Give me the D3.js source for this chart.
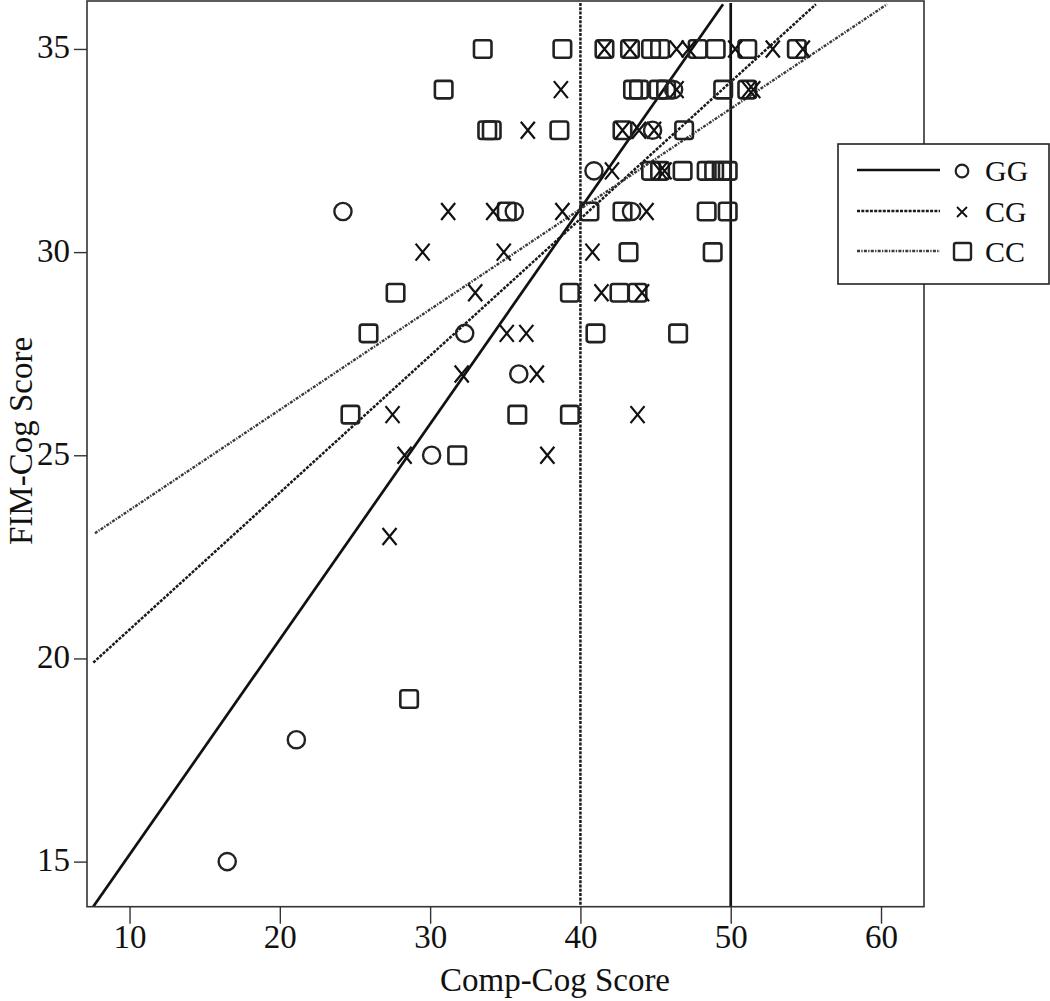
<!DOCTYPE html>
<html><head><meta charset="utf-8">
<script src="https://cdn.jsdelivr.net/npm/d3@7"></script>
<style>html,body{margin:0;padding:0;background:#fff;}svg{display:block;}</style>
</head><body>
<svg id="chart" width="1050" height="1001"></svg>
<script>
// ---- data ----
const groupNames = ["GG", "CG", "CC"];
const xTicks = [10, 20, 30, 40, 50, 60];
const yTicks = [15, 20, 25, 30, 35];
const xTitle = "Comp-Cog Score";
const yTitle = "FIM-Cog Score";
const refLinesX = [40, 50];
// regression fits: [slope, intercept, xStart]
const ggFit = [0.530, 9.87, 7.59];
const cgFit = [0.337, 17.34, 7.59];
const ccFit = [0.247, 21.18, 7.70];

const ggPoints = [[16.5,15],[21.1,18],[24.2,31],[30.1,25],[32.3,28],[35.9,27],[35.6,31],[40.9,32],[43.4,31],[44.8,33],[46.2,34]];
const cgPoints = [
 [41.6,35],[43.3,35],[46.4,35],[47.2,35],[50.3,35],[52.8,35],[54.8,35],
 [38.7,34],[46.4,34],[51.2,34],[51.5,34],
 [36.5,33],[42.8,33],[43.9,33],[44.9,33],
 [42.1,32],[45.3,32],[45.6,32],
 [31.2,31],[34.2,31],[38.8,31],[44.4,31],
 [29.5,30],[34.9,30],[40.8,30],
 [33.0,29],[41.4,29],[44.1,29],
 [35.1,28],[36.4,28],
 [32.1,27],[37.1,27],
 [27.5,26],[43.8,26],
 [28.3,25],[37.8,25],
 [27.3,23]];
const ccPoints = [
 [33.5,35],[38.8,35],[41.6,35],[43.3,35],[44.7,35],[45.3,35],[47.8,35],[49.0,35],[51.1,35],[54.4,35],
 [30.9,34],[43.5,34],[43.9,34],[45.2,34],[45.7,34],[49.5,34],[51.1,34],
 [33.8,33],[34.1,33],[38.6,33],[42.8,33],[46.9,33],
 [44.7,32],[45.3,32],[46.8,32],[48.4,32],[48.9,32],[49.4,32],[49.8,32],
 [35.1,31],[40.6,31],[42.8,31],[48.4,31],[49.8,31],
 [43.2,30],[48.8,30],
 [27.7,29],[39.3,29],[42.6,29],[43.8,29],
 [25.9,28],[41.0,28],[46.5,28],
 [24.7,26],[35.8,26],[39.3,26],
 [31.8,25],
 [28.6,19]];

// ---- layout ----
const svg = d3.select("#chart");
const L = 87, R = 924, T = 1, B = 906.7;
const x = d3.scaleLinear().domain([7.17, 62.86]).range([L, R]);
const y = d3.scaleLinear().domain([13.89, 36.18]).range([B, T]);
const font = "'Liberation Serif','Times New Roman',serif";
const ink = "#222";

const styles = {
  GG: {dash: null, color: "#111", width: 2.7},
  CG: {dash: "3,1.3", color: "#1a1a1a", width: 2.5},
  CC: {dash: "3,1.3,1.3,1.3", color: "#3a3a3a", width: 2.4}
};

const plot = svg.append("g");
const clipId = "clipPlot";
svg.append("clipPath").attr("id", clipId).append("rect")
  .attr("x", L).attr("y", T).attr("width", R - L).attr("height", B - T);

// reference vertical lines
plot.append("line").attr("x1", x(refLinesX[0])).attr("x2", x(refLinesX[0]))
  .attr("y1", T + 2).attr("y2", B).attr("stroke", "#1a1a1a")
  .attr("stroke-width", 2.5).attr("stroke-dasharray", "3,1.3");
plot.append("line").attr("x1", x(refLinesX[1])).attr("x2", x(refLinesX[1]))
  .attr("y1", T + 2).attr("y2", B).attr("stroke", "#111").attr("stroke-width", 2.7);

// fit lines
const fits = [["GG", ggFit], ["CG", cgFit], ["CC", ccFit]];
const topVal = 36.1;
fits.forEach(([g, f]) => {
  const [m, b, xs] = f;
  const xe = (topVal - b) / m;
  const s = styles[g];
  const ln = plot.append("line")
    .attr("x1", x(xs)).attr("y1", y(m * xs + b))
    .attr("x2", x(xe)).attr("y2", y(topVal))
    .attr("stroke", s.color).attr("stroke-width", s.width)
    .attr("clip-path", `url(#${clipId})`);
  if (s.dash) ln.attr("stroke-dasharray", s.dash);
});

// markers
const circR = 8.6, sq = 17.5, xw = 7, xh = 8.5;
const mk = plot.append("g").attr("fill", "none").attr("stroke", ink);
mk.selectAll("rect.cc").data(ccPoints).join("rect").attr("class", "cc")
  .attr("x", d => x(d[0]) - sq / 2).attr("y", d => y(d[1]) - sq / 2)
  .attr("width", sq).attr("height", sq).attr("rx", 2.5)
  .attr("stroke-width", 2.6);
mk.selectAll("path.cg").data(cgPoints).join("path").attr("class", "cg")
  .attr("d", d => {
    const cx = x(d[0]), cy = y(d[1]);
    return `M${cx - xw},${cy - xh}L${cx + xw},${cy + xh}M${cx + xw},${cy - xh}L${cx - xw},${cy + xh}`;
  }).attr("stroke-width", 2.2).attr("stroke", "#111");
mk.selectAll("circle.gg").data(ggPoints).join("circle").attr("class", "gg")
  .attr("cx", d => x(d[0])).attr("cy", d => y(d[1])).attr("r", circR)
  .attr("stroke-width", 2.4);

// frame
svg.append("rect").attr("x", L).attr("y", T).attr("width", R - L).attr("height", B - T)
  .attr("fill", "none").attr("stroke", "#333").attr("stroke-width", 1.6);

// axes
const xAxis = svg.append("g").attr("transform", `translate(0,${B})`)
  .call(d3.axisBottom(x).tickValues(xTicks).tickSize(17).tickPadding(4).tickFormat(d3.format("d")));
xAxis.select(".domain").remove();
xAxis.selectAll(".tick line").attr("stroke", "#333").attr("stroke-width", 1.4);
xAxis.selectAll(".tick text").attr("font-family", font).attr("font-size", 33)
  .attr("fill", "#111").attr("dy", null).attr("y", 41.5);

const yAxis = svg.append("g").attr("transform", `translate(${L},0)`)
  .call(d3.axisLeft(y).tickValues(yTicks).tickSize(13).tickPadding(4).tickFormat(d3.format("d")));
yAxis.select(".domain").remove();
yAxis.selectAll(".tick line").attr("stroke", "#333").attr("stroke-width", 1.4);
yAxis.selectAll(".tick text").attr("font-family", font).attr("font-size", 33)
  .attr("fill", "#111").attr("dy", "9").attr("x", -17);

// titles
svg.append("text").attr("x", 555).attr("y", 991).attr("text-anchor", "middle")
  .attr("font-family", font).attr("font-size", 33).attr("fill", "#111").text(xTitle);
svg.append("text").attr("transform", "translate(32,441) rotate(-90)").attr("text-anchor", "middle")
  .attr("font-family", font).attr("font-size", 33).attr("fill", "#111").text(yTitle);

// legend
const lg = svg.append("g");
lg.append("rect").attr("x", 838).attr("y", 144).attr("width", 211).attr("height", 140)
  .attr("fill", "#fff").attr("stroke", "#222").attr("stroke-width", 1.6);
const legendY = [170, 211, 251];
groupNames.forEach((g, i) => {
  const s = styles[g];
  const ly = legendY[i];
  const ln = lg.append("line").attr("x1", 857).attr("x2", 940).attr("y1", ly).attr("y2", ly)
    .attr("stroke", s.color).attr("stroke-width", s.width);
  if (s.dash) ln.attr("stroke-dasharray", s.dash);
  const cx = 962;
  if (g === "GG") {
    lg.append("circle").attr("cx", cx).attr("cy", ly + 1).attr("r", 6.3)
      .attr("fill", "none").attr("stroke", ink).attr("stroke-width", 2.2);
  } else if (g === "CG") {
    const w = 5, h = 5;
    lg.append("path").attr("d", `M${cx - w},${ly - h + 1}L${cx + w},${ly + h + 1}M${cx + w},${ly - h + 1}L${cx - w},${ly + h + 1}`)
      .attr("stroke", "#111").attr("stroke-width", 1.8).attr("fill", "none");
  } else {
    lg.append("rect").attr("x", cx - 8).attr("y", ly - 8).attr("width", 17).attr("height", 17)
      .attr("rx", 2).attr("fill", "none").attr("stroke", ink).attr("stroke-width", 2.4);
  }
  lg.append("text").attr("x", 985).attr("y", ly + 11).attr("font-family", font)
    .attr("font-size", 30).attr("fill", "#111").text(g);
});
</script>
</body></html>
